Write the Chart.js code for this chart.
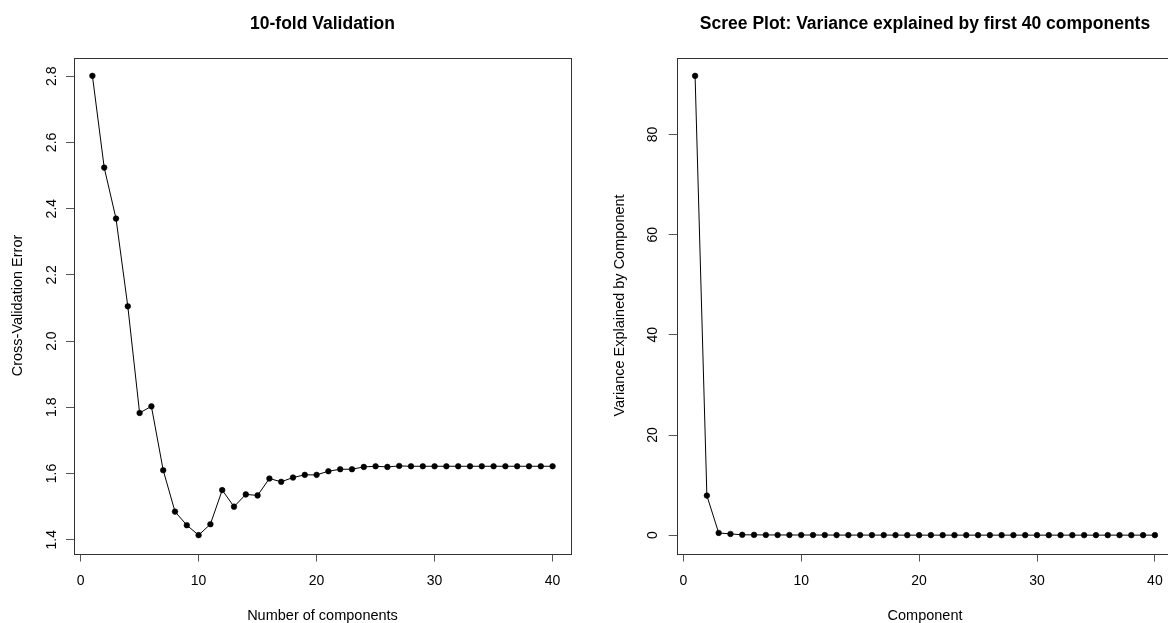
<!DOCTYPE html>
<html>
<head>
<meta charset="utf-8">
<script src="https://cdn.jsdelivr.net/npm/chart.js@4/dist/chart.umd.min.js"></script>
<style>
  html, body { margin: 0; padding: 0; background: #fff; overflow: hidden; }
  #wrap { position: relative; width: 1168px; height: 623px; overflow: hidden; }
  canvas { position: absolute; top: 0; }
  #cv { left: 0; }
  #scree { left: 584px; }
</style>
</head>
<body>
<div id="wrap">
  <canvas id="cv" width="584" height="623"></canvas>
  <canvas id="scree" width="600" height="623"></canvas>
</div>
<script>
// componentes 1..40
const componentes = [1, 2, 3, 4, 5, 6, 7, 8, 9, 10, 11, 12, 13, 14, 15, 16, 17, 18, 19, 20,
  21, 22, 23, 24, 25, 26, 27, 28, 29, 30, 31, 32, 33, 34, 35, 36, 37, 38, 39, 40];

// error de validacion cruzada (10-fold)
const errorCV = [2.801, 2.524, 2.370, 2.105, 1.783, 1.803, 1.610, 1.485, 1.444, 1.414,
  1.447, 1.550, 1.500, 1.537, 1.534, 1.585, 1.575, 1.588, 1.596, 1.596,
  1.607, 1.613, 1.613, 1.620, 1.622, 1.620, 1.623, 1.622, 1.622, 1.622,
  1.622, 1.622, 1.622, 1.622, 1.622, 1.622, 1.622, 1.622, 1.622, 1.622];

// varianza explicada por componente
const varianza = [91.7, 7.9, 0.45, 0.25, 0.08, 0.06, 0.05, 0.04, 0.04, 0.03,
  0.03, 0.03, 0.02, 0.02, 0.02, 0.02, 0.02, 0.02, 0.01, 0.01,
  0.01, 0.01, 0.01, 0.01, 0.01, 0.01, 0.01, 0.01, 0.01, 0.01,
  0.01, 0.01, 0.01, 0.01, 0.01, 0.01, 0.01, 0.01, 0.01, 0.01];

const ticksX = [0, 10, 20, 30, 40];
const ticksCV = [1.4, 1.6, 1.8, 2.0, 2.2, 2.4, 2.6, 2.8];
const ticksVar = [0, 20, 40, 60, 80];

const fuente = "'Liberation Sans', Arial, sans-serif";

// rango con 4% extra a cada lado, como hace R
function rango(arr) {
  const mn = Math.min(...arr), mx = Math.max(...arr);
  const p = (mx - mn) * 0.04;
  return [mn - p, mx + p];
}

// caja alrededor del area del grafico
const caja = {
  id: 'caja',
  afterDraw(chart) {
    const a = chart.chartArea, ctx = chart.ctx;
    ctx.save();
    ctx.strokeStyle = '#333';
    ctx.lineWidth = 1;
    ctx.strokeRect(Math.round(a.left) + 0.5, Math.round(a.top) + 0.5,
      Math.round(a.right - a.left), Math.round(a.bottom - a.top));
    ctx.restore();
  }
};

function grafico(id, titulo, ejeX, ejeY, valores, ticksY, decimales, cfg) {
  const rx = rango(componentes);
  const ry = rango(valores);
  return new Chart(document.getElementById(id), {
    type: 'line',
    data: {
      datasets: [{
        data: componentes.map((c, i) => ({ x: c, y: valores[i] })),
        borderColor: '#000',
        borderWidth: 1,
        backgroundColor: '#000',
        pointRadius: 2.8,
        pointBorderWidth: 0.6,
        pointBorderColor: '#000',
        pointBackgroundColor: '#000',
        tension: 0
      }]
    },
    options: {
      responsive: false,
      animation: false,
      devicePixelRatio: 1,
      layout: { padding: { left: 0, right: cfg.padDer, top: 0, bottom: 0 } },
      plugins: {
        legend: { display: false },
        tooltip: { enabled: false },
        title: {
          display: true,
          text: titulo,
          fullSize: false,
          color: '#000',
          font: { family: fuente, size: 17.5, weight: 'bold', lineHeight: 1.2 },
          padding: { top: 14, bottom: 22.5 }
        }
      },
      scales: {
        x: {
          type: 'linear',
          min: rx[0],
          max: rx[1],
          afterBuildTicks: s => { s.ticks = ticksX.map(v => ({ value: v })); },
          afterFit: s => { s.height = 69.5; },
          grid: { drawOnChartArea: false, drawTicks: true, tickLength: 8, color: '#555' },
          border: { display: false },
          ticks: {
            autoSkip: false,
            maxRotation: 0,
            padding: 11,
            color: '#000',
            font: { family: fuente, size: 14 },
            callback: v => String(v)
          },
          title: {
            display: true,
            text: ejeX,
            color: '#000',
            font: { family: fuente, size: 14.5, lineHeight: 1 },
            padding: { top: 0, bottom: 0 }
          }
        },
        y: {
          type: 'linear',
          min: ry[0],
          max: ry[1],
          afterBuildTicks: s => { s.ticks = ticksY.map(v => ({ value: v })); },
          afterFit: s => { s.width = cfg.anchoY; },
          grid: { drawOnChartArea: false, drawTicks: true, tickLength: 8, color: '#555' },
          border: { display: false },
          ticks: {
            autoSkip: false,
            minRotation: 90,
            maxRotation: 90,
            crossAlign: 'center',
            padding: cfg.padTickY,
            color: '#000',
            font: { family: fuente, size: 14 },
            callback: v => Number(v).toFixed(decimales)
          },
          title: {
            display: true,
            text: ejeY,
            color: '#000',
            font: { family: fuente, size: 14.5, lineHeight: 1.2 },
            padding: { top: cfg.padTituloY, bottom: 0 }
          }
        }
      }
    },
    plugins: [caja]
  });
}

grafico('cv', '10-fold Validation', 'Number of components', 'Cross-Validation Error',
  errorCV, ticksCV, 1, { anchoY: 74, padDer: 13, padTickY: 4.6, padTituloY: 9.6 });

grafico('scree', 'Scree Plot: Variance explained by first 40 components', 'Component',
  'Variance Explained by Component', varianza, ticksVar, 0,
  { anchoY: 92.7, padDer: 10.7, padTickY: 7.3, padTituloY: 27.3 });
</script>
</body>
</html>
